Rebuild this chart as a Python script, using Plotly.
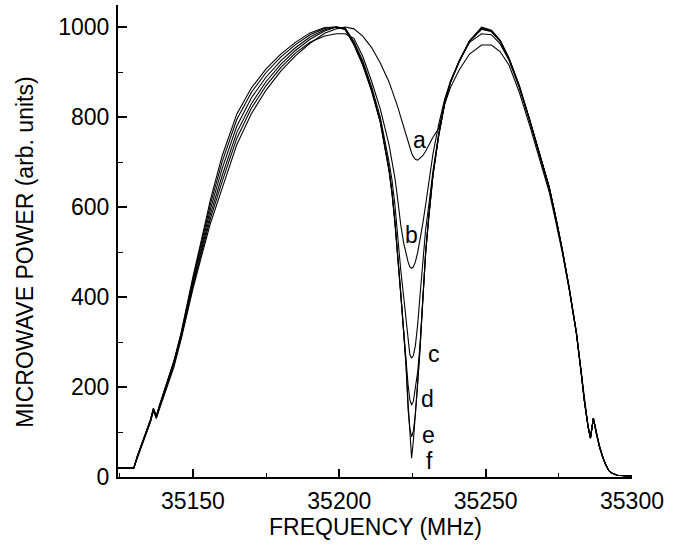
import plotly.graph_objects as go

freq = [35124.4, 35129.8, 35131, 35133, 35135.5, 35136.5, 35137.5, 35138.5, 35140.5, 35143.5,
        35146, 35148, 35150, 35153, 35156, 35160, 35165, 35170, 35175, 35180,
        35185, 35190, 35195, 35199, 35202, 35205, 35208, 35211, 35214, 35217,
        35218, 35219, 35220, 35221, 35222, 35222.8, 35223.5, 35224.1, 35224.7, 35225.3,
        35226, 35226.8, 35227.6, 35228.5, 35229.5, 35230.5, 35232, 35234, 35236, 35238,
        35241, 35244.5, 35248.6, 35252, 35255, 35258, 35261.5, 35265, 35268.5, 35271.7,
        35274, 35276.2, 35278.5, 35281, 35282.5, 35283.7, 35285, 35285.8, 35286.8, 35287.8,
        35288.9, 35290, 35291, 35292, 35293, 35295, 35300]

power_a = [19, 20, 42, 78, 122, 147, 130, 150, 188, 244,
           307, 364, 418, 492, 564, 642, 739, 808, 860, 902,
           936, 964, 986, 996, 1000, 996, 980, 955, 920, 878,
           860, 842, 822, 800, 778, 760, 745, 732, 720, 712,
           706, 704, 708, 714, 724, 737, 755, 775, 828, 866,
           905, 940, 960, 960, 945, 915, 855, 782, 705, 634,
           566, 498, 418, 318, 239, 170, 111, 86, 129, 95,
           66, 43, 27, 15, 9, 4, 2]
power_b = [20, 20, 45, 80, 125, 150, 133, 155, 195, 253,
           310, 368, 424, 500, 575, 657, 753, 820, 870, 910,
           942, 966, 980, 985, 985, 975, 935, 880, 818, 738,
           705, 665, 615, 560, 520, 495, 478, 467, 464, 467,
           478, 500, 528, 562, 605, 650, 718, 785, 840, 880,
           925, 968, 995, 990, 968, 930, 870, 795, 716, 645,
           576, 505, 422, 321, 240, 171, 112, 87, 131, 97,
           67, 44, 27, 15, 9, 4, 2]
power_c = [20, 20, 44, 79, 124, 149, 132, 153, 192, 250,
           313, 372, 428, 507, 585, 670, 766, 830, 879, 917,
           948, 973, 991, 1000, 998, 968, 925, 868, 800, 700,
           660, 605, 530, 460, 400, 345, 300, 272, 264, 270,
           292, 340, 405, 480, 550, 600, 680, 765, 832, 878,
           924, 966, 985, 983, 962, 926, 866, 792, 713, 642,
           573, 503, 420, 320, 240, 171, 112, 87, 131, 96,
           67, 44, 27, 15, 9, 4, 2]
power_d = [21, 20, 46, 82, 127, 152, 135, 157, 198, 257,
           316, 377, 434, 515, 596, 686, 780, 843, 889, 925,
           954, 978, 994, 1000, 997, 965, 920, 862, 792, 685,
           635, 570, 495, 410, 325, 258, 205, 172, 160, 168,
           195, 235, 295, 395, 500, 575, 672, 762, 832, 878,
           925, 970, 998, 992, 970, 930, 868, 795, 716, 645,
           576, 505, 422, 321, 241, 172, 112, 87, 131, 97,
           67, 44, 27, 15, 9, 4, 2]
power_e = [20, 20, 45, 81, 126, 151, 134, 156, 197, 256,
           322, 385, 445, 530, 617, 714, 807, 865, 907, 940,
           966, 987, 999, 1000, 994, 962, 918, 860, 790, 682,
           632, 567, 492, 407, 322, 248, 150, 108, 89, 102,
           140, 205, 285, 390, 497, 573, 670, 760, 830, 877,
           924, 968, 996, 990, 968, 928, 867, 794, 715, 644,
           575, 504, 421, 320, 240, 171, 112, 87, 131, 97,
           67, 44, 27, 15, 9, 4, 2]
power_f = [21, 20, 47, 83, 128, 153, 136, 158, 199, 258,
           319, 381, 440, 523, 607, 701, 795, 855, 899, 933,
           961, 983, 997, 1000, 995, 960, 915, 858, 788, 680,
           630, 565, 490, 405, 320, 250, 165, 100, 42, 80,
           135, 210, 290, 392, 498, 572, 670, 760, 830, 877,
           924, 969, 1000, 993, 970, 930, 868, 795, 716, 645,
           576, 505, 422, 322, 241, 171, 112, 87, 131, 97,
           67, 44, 27, 15, 9, 4, 2]

series = [power_a, power_b, power_c, power_d, power_e, power_f]

curve_labels = ["a", "b", "c", "d", "e", "f"]
label_x = [35227.5, 35224.7, 35232.3, 35230.2, 35230.5, 35230.9]
label_y = [749, 538, 273, 173, 93, 36]

x_ticks = [35150, 35200, 35250, 35300]
y_ticks = [0, 200, 400, 600, 800, 1000]

FONT = "Liberation Sans, Arial, sans-serif"
FS = 23

fig = go.Figure()
for vals in series:
    fig.add_trace(go.Scatter(x=freq, y=vals, mode="lines",
                             line=dict(color="black", width=1.1),
                             showlegend=False, hoverinfo="skip"))

for t, lx, ly in zip(curve_labels, label_x, label_y):
    fig.add_annotation(x=lx, y=ly, xref="x", yref="y", text=t, showarrow=False,
                       font=dict(family=FONT, size=FS, color="black"))

fig.add_annotation(x=-0.181, y=0.477, xref="paper", yref="paper",
                   text="MICROWAVE POWER (arb. units)", showarrow=False, textangle=-90,
                   xanchor="center", yanchor="middle",
                   font=dict(family=FONT, size=FS, color="black"))
fig.add_annotation(x=0.5, y=-0.106, xref="paper", yref="paper",
                   text="FREQUENCY (MHz)", showarrow=False,
                   xanchor="center", yanchor="middle",
                   font=dict(family=FONT, size=FS, color="black"))

fig.update_layout(
    width=686, height=557,
    margin=dict(l=118, r=54, t=5, b=80),
    paper_bgcolor="white", plot_bgcolor="white",
    font=dict(family=FONT, size=FS, color="black"),
    xaxis=dict(range=[35124.4, 35300], tickvals=x_ticks, ticktext=[str(v) for v in x_ticks],
               ticks="inside", ticklen=8, tickwidth=1.5, tickcolor="black",
               showline=True, linecolor="black", linewidth=2, showgrid=False, zeroline=False,
               minor=dict(dtick=25, tick0=35150, ticks="inside", ticklen=4, tickwidth=1.2,
                          tickcolor="black", showgrid=False),
               tickfont=dict(family=FONT, size=FS), ticklabelstandoff=2),
    yaxis=dict(range=[0, 1049], tickvals=y_ticks, ticktext=[str(v) for v in y_ticks],
               ticks="inside", ticklen=9, tickwidth=1.5, tickcolor="black",
               showline=True, linecolor="black", linewidth=2, showgrid=False, zeroline=False,
               minor=dict(dtick=100, tick0=0, ticks="inside", ticklen=5, tickwidth=1.2,
                          tickcolor="black", showgrid=False),
               tickfont=dict(family=FONT, size=FS), ticklabelstandoff=2),
)

fig.write_html("out.html")
